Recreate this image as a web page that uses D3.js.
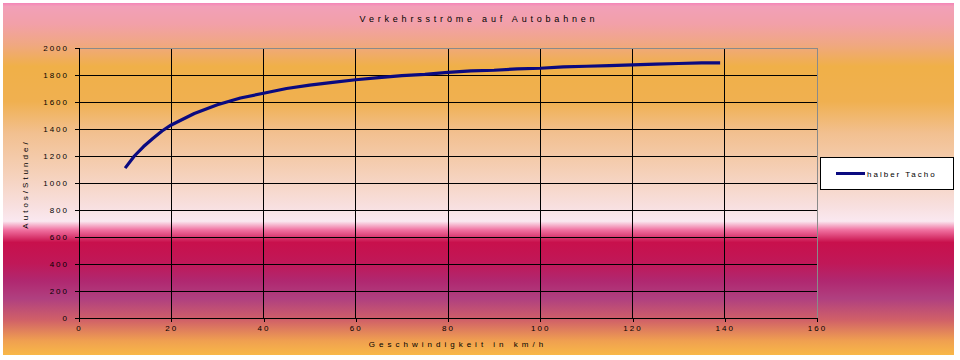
<!DOCTYPE html>
<html><head><meta charset="utf-8">
<script src="https://cdn.jsdelivr.net/npm/d3@7"></script>
<style>
html,body{margin:0;padding:0;background:#fff;}
svg text{font-family:"Liberation Sans",Arial,sans-serif;fill:#000;}
</style></head>
<body>
<svg id="chart" width="960" height="360"></svg>
<script>
const title = "Verkehrsströme auf Autobahnen";
const xTitle = "Geschwindigkeit in km/h";
const yTitle = "Autos/Stunde/";
const seriesName = "halber Tacho";
const speeds = [10,12,14,16,18,20,25,30,35,40,45,50,55,60,65,70,75,80,85,90,95,100,105,110,115,120,125,130,135,139];
const carsPerHour = [1110,1200,1270,1330,1385,1430,1515,1580,1630,1665,1700,1725,1745,1765,1780,1795,1805,1820,1830,1835,1845,1850,1860,1865,1870,1875,1880,1885,1890,1890];
const xTicks = [0,20,40,60,80,100,120,140,160];
const yTicks = [0,200,400,600,800,1000,1200,1400,1600,1800,2000];

const svg = d3.select("#chart");
const defs = svg.append("defs");
const grad = defs.append("linearGradient").attr("id","bg").attr("x1",0).attr("y1",0).attr("x2",0).attr("y2",1);
const stops = [
 [0,"#f484b8"],[0.01,"#f2a0b8"],[0.06,"#f2a0a8"],[0.12,"#f0a880"],[0.18,"#f0b048"],
 [0.28,"#f0b050"],[0.37,"#f2c090"],[0.48,"#f5d0b8"],[0.58,"#f8e0e0"],[0.62,"#fae8f0"],
 [0.645,"#f070a0"],[0.68,"#c8104c"],[0.74,"#c01858"],[0.79,"#b02870"],[0.84,"#b04080"],
 [0.9,"#d06068"],[0.96,"#f0a050"],[1,"#f8b848"]];
stops.forEach(s=>grad.append("stop").attr("offset",s[0]).attr("stop-color",s[1]));
svg.append("rect").attr("x",3).attr("y",3).attr("width",951).attr("height",352).attr("fill","url(#bg)");

const x = d3.scaleLinear().domain([0,160]).range([79,817]);
const y = d3.scaleLinear().domain([0,2000]).range([318,48]);

const g = svg.append("g");
g.selectAll(".hg").data(yTicks.slice(1,-1)).enter().append("line")
 .attr("x1",x(0)).attr("x2",x(160)).attr("y1",d=>y(d)).attr("y2",d=>y(d))
 .attr("stroke","#000").attr("stroke-width",1).attr("shape-rendering","crispEdges");
g.selectAll(".vg").data(xTicks.slice(1,-1)).enter().append("line")
 .attr("y1",y(0)).attr("y2",y(2000)).attr("x1",d=>x(d)).attr("x2",d=>x(d))
 .attr("stroke","#000").attr("stroke-width",1).attr("shape-rendering","crispEdges");
svg.append("path").attr("d",`M${x(0)},${y(2000)}H${x(160)}V${y(0)}`)
 .attr("fill","none").attr("stroke","#8a8a8a").attr("shape-rendering","crispEdges");

const xAxis = d3.axisBottom(x).tickValues(xTicks).tickSize(4).tickPadding(3).tickFormat(d3.format("d"));
const yAxis = d3.axisLeft(y).tickValues(yTicks).tickSize(4).tickPadding(4).tickFormat(d3.format("d"));
const gx = svg.append("g").attr("transform",`translate(0,${y(0)})`).call(xAxis);
const gy = svg.append("g").attr("transform",`translate(${x(0)},0)`).call(yAxis);
[gx,gy].forEach(a=>{
  a.select(".domain").attr("stroke","#000").attr("shape-rendering","crispEdges");
  a.selectAll(".tick line").attr("stroke","#000").attr("shape-rendering","crispEdges");
  a.selectAll("text").attr("font-size",8).attr("letter-spacing","2px").attr("fill","#000")
   .attr("font-family","Liberation Sans, Arial, sans-serif");
});
gy.selectAll("text").attr("dx","-2");

const line = d3.line().x((d,i)=>x(speeds[i])).y(d=>y(d));
svg.append("path").datum(carsPerHour).attr("d",line).attr("fill","none")
 .attr("stroke","#0a0a80").attr("stroke-width",3.2).attr("stroke-linejoin","round");

svg.append("text").attr("x",479).attr("y",22).attr("text-anchor","middle")
 .attr("font-size",9).attr("letter-spacing","3.8px").text(title);
svg.append("text").attr("x",458).attr("y",347).attr("text-anchor","middle")
 .attr("font-size",8).attr("letter-spacing","4px").text(xTitle);
svg.append("text").attr("transform","translate(28,184) rotate(-90)").attr("text-anchor","middle")
 .attr("font-size",8).attr("letter-spacing","3px").text(yTitle);

const lg = svg.append("g");
lg.append("rect").attr("x",820.5).attr("y",157.5).attr("width",133).attr("height",32)
 .attr("fill","#fff").attr("stroke","#000");
lg.append("line").attr("x1",836).attr("x2",865).attr("y1",173.5).attr("y2",173.5)
 .attr("stroke","#0a0a80").attr("stroke-width",3);
lg.append("text").attr("x",867).attr("y",176.5).attr("font-size",8).attr("letter-spacing","2px").text(seriesName);
</script>
</body></html>
